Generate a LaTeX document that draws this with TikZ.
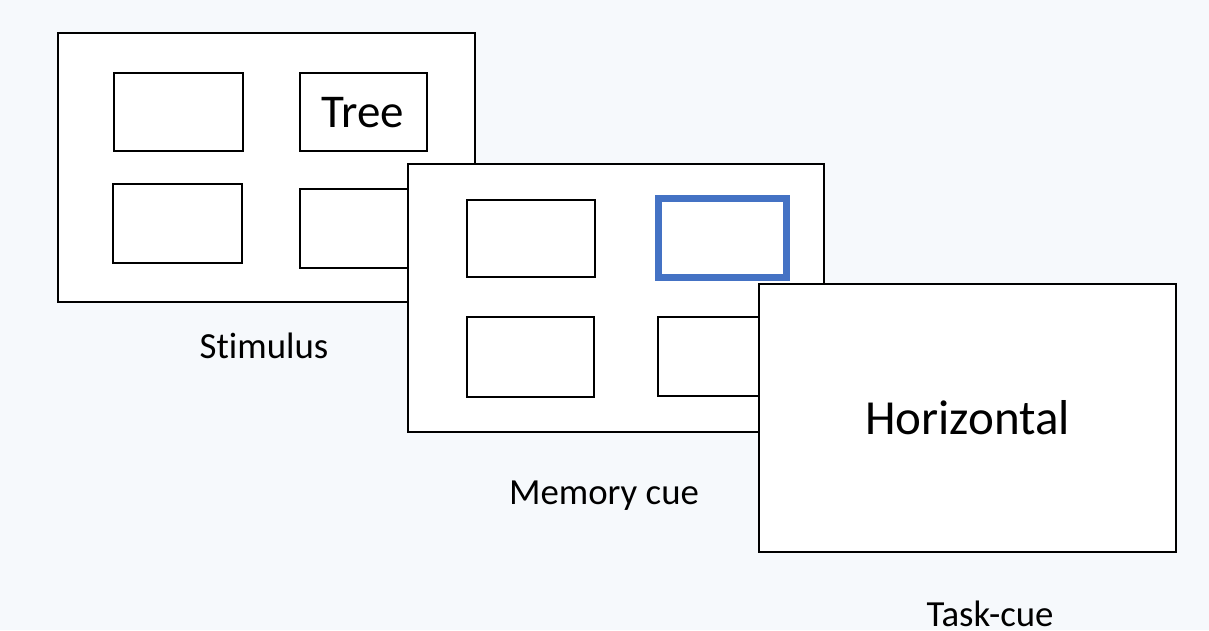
\documentclass[tikz,border=0pt]{standalone}
\usepackage{fontspec}
\setmainfont[Ligatures=NoCommon]{Carlito}
\definecolor{pagebg}{RGB}{246,249,252}
\definecolor{cueblue}{RGB}{68,114,196}
\tikzset{
  panel/.style={draw=black, fill=white, line width=2pt, rectangle, inner sep=0pt, outer sep=0pt},
  slot/.style={draw=black, fill=white, line width=2pt, rectangle, inner sep=0pt, outer sep=0pt},
  cued/.style={draw=cueblue, fill=white, line width=7pt, rectangle, inner sep=0pt, outer sep=0pt},
  caption/.style={anchor=base, inner sep=0pt, font=\fontsize{36.8}{40}\selectfont},
  word/.style={anchor=base, inner sep=0pt},
}
\begin{document}
\begin{tikzpicture}[x=1pt, y=-1pt]
  % page background
  \fill[pagebg] (0,0) rectangle (1209,630);
  \useasboundingbox (0,0) rectangle (1209,630);

  % --- Stimulus screen ---
  \node[panel, minimum width=417pt, minimum height=269pt] (stim) at (266.5,167.5) {};
  \node[slot, minimum width=129pt, minimum height=78pt] (stimTL) at (178.5,112) {};
  \node[slot, minimum width=127pt, minimum height=78pt] (stimTR) at (363.5,112) {};
  \node[slot, minimum width=129pt, minimum height=79pt] (stimBL) at (177.5,223.5) {};
  \node[slot, minimum width=128pt, minimum height=79pt] (stimBR) at (364,228.5) {};
  \node[word, font=\fontsize{47}{50}\selectfont] (tree) at (362.5,127.3) {Tree};
  \node[caption] (stimlabel) at (264,358) {Stimulus};

  % --- Memory cue screen ---
  \node[panel, minimum width=416pt, minimum height=268pt] (mem) at (616,298) {};
  \node[slot, minimum width=128pt, minimum height=77pt] (memTL) at (531,238.5) {};
  \node[cued, minimum width=127.6pt, minimum height=78.5pt] (memTR) at (722.5,237.8) {};
  \node[slot, minimum width=127pt, minimum height=80pt] (memBL) at (530.5,357) {};
  \node[slot, minimum width=128pt, minimum height=79pt] (memBR) at (722,356.5) {};
  \node[caption] (memlabel) at (604,504.5) {Memory cue};

  % --- Task cue screen ---
  \node[panel, minimum width=417pt, minimum height=268pt] (task) at (967.5,418) {};
  \node[word, font=\fontsize{49}{52}\selectfont] (horiz) at (967.5,434) {Horizontal};
  \node[caption] (tasklabel) at (990,626) {Task-cue};
\end{tikzpicture}
\end{document}
